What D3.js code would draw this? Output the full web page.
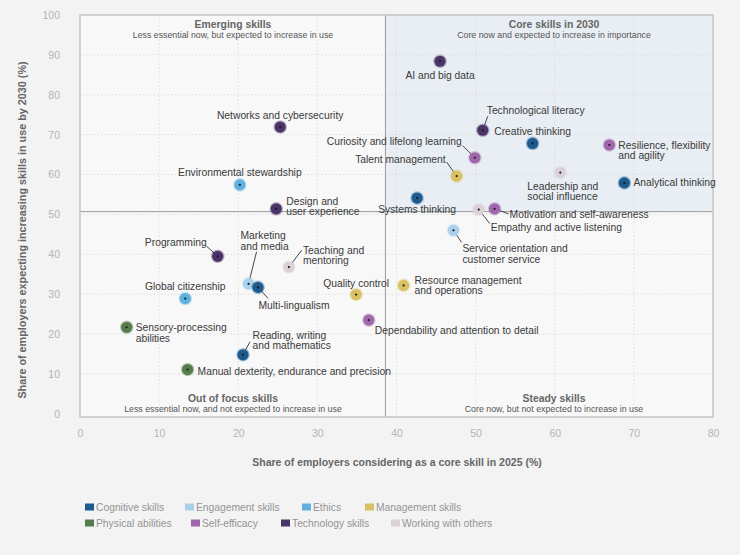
<!DOCTYPE html>
<html><head><meta charset="utf-8">
<script src="https://cdn.jsdelivr.net/npm/d3@7"></script>
<style>
html,body{margin:0;padding:0;background:#f3f3f3;}
svg{display:block;font-family:"Liberation Sans",Arial,Helvetica,sans-serif;}
</style></head>
<body>
<svg id="chart" width="740" height="555"></svg>
<script>
// ---- DATA ----
const skills = [
  "AI and big data","Networks and cybersecurity","Technological literacy","Creative thinking",
  "Resilience, flexibility and agility","Curiosity and lifelong learning","Talent management",
  "Leadership and social influence","Analytical thinking","Systems thinking",
  "Empathy and active listening","Motivation and self-awareness","Environmental stewardship",
  "Design and user experience","Service orientation and customer service","Programming",
  "Marketing and media","Teaching and mentoring","Multi-lingualism","Global citizenship",
  "Quality control","Resource management and operations","Dependability and attention to detail",
  "Sensory-processing abilities","Reading, writing and mathematics","Manual dexterity, endurance and precision"
];
const coreShare2025 = [45.5,25.3,50.9,57.2,66.9,49.9,47.6,60.7,68.8,42.6,50.4,52.4,20.2,24.8,47.2,17.4,21.3,26.4,22.5,13.3,34.9,40.9,36.5,5.9,20.6,13.6];
const increasingShare2030 = [88.4,71.9,71.1,67.8,67.4,64.2,59.6,60.5,57.9,54.1,51.2,51.4,57.4,51.4,46.0,39.5,32.6,36.8,31.7,28.9,29.9,32.2,23.5,21.7,14.8,11.1];
const skillCategory = ["Technology skills","Technology skills","Technology skills","Cognitive skills",
  "Self-efficacy","Self-efficacy","Management skills","Working with others","Cognitive skills","Cognitive skills",
  "Working with others","Self-efficacy","Ethics","Technology skills","Engagement skills","Technology skills",
  "Engagement skills","Working with others","Cognitive skills","Ethics","Management skills","Management skills",
  "Self-efficacy","Physical abilities","Cognitive skills","Physical abilities"];
const categories = ["Cognitive skills","Engagement skills","Ethics","Management skills",
  "Physical abilities","Self-efficacy","Technology skills","Working with others"];
const xTicks = [0,10,20,30,40,50,60,70,80];
const yTicks = [0,10,20,30,40,50,60,70,80,90,100];
const thresholdX = 38.6, thresholdY = 50.7;
const quadrantTitles = ["Emerging skills","Core skills in 2030","Out of focus skills","Steady skills"];
const quadrantSubtitles = ["Less essential now, but expected to increase in use",
  "Core now and expected to increase in importance",
  "Less essential now, and not expected to increase in use",
  "Core now, but not expected to increase in use"];
const xTitle = "Share of employers considering as a core skill in 2025 (%)";
const yTitle = "Share of employers expecting increasing skills in use by 2030 (%)";

// ---- STYLE / LAYOUT ----
const colors = ["#1d5b8f","#a9d2ea","#5eb0de","#d8c063","#567c4d","#a167ad","#4b3467","#ddd1d9"];
const color = d3.scaleOrdinal().domain(categories).range(colors);
// label layout: [dx, dy(baseline of first line), anchor, lines, leader end offset or null]
const labelLayout = {
  "AI and big data":[0,18,"middle",["AI and big data"],null],
  "Networks and cybersecurity":[0,-8.5,"middle",["Networks and cybersecurity"],null],
  "Technological literacy":[4,-16.5,"start",["Technological literacy"],[5,-14]],
  "Creative thinking":[0,-8,"middle",["Creative thinking"],null],
  "Resilience, flexibility and agility":[9,3.5,"start",["Resilience, flexibility","and agility"],null],
  "Curiosity and lifelong learning":[-13,-13,"end",["Curiosity and lifelong learning"],[-12,-12]],
  "Talent management":[-11,-13.5,"end",["Talent management"],[-10,-14]],
  "Leadership and social influence":[-33,17,"start",["Leadership and","social influence"],null],
  "Analytical thinking":[9,3.5,"start",["Analytical thinking"],null],
  "Systems thinking":[0,15,"middle",["Systems thinking"],null],
  "Empathy and active listening":[12,21,"start",["Empathy and active listening"],[11,14]],
  "Motivation and self-awareness":[15,9,"start",["Motivation and self-awareness"],[14,5]],
  "Environmental stewardship":[0,-8.5,"middle",["Environmental stewardship"],null],
  "Design and user experience":[10,-4,"start",["Design and","user experience"],null],
  "Service orientation and customer service":[9,22,"start",["Service orientation and","customer service"],[8,12]],
  "Programming":[-11,-10.5,"end",["Programming"],[-11,-10]],
  "Marketing and media":[-8,-44.5,"start",["Marketing","and media"],[8,-32]],
  "Teaching and mentoring":[14,-13.5,"start",["Teaching and","mentoring"],[13,-17]],
  "Multi-lingualism":[0.5,22,"start",["Multi-lingualism"],[10,11]],
  "Global citizenship":[0,-9,"middle",["Global citizenship"],null],
  "Quality control":[0,-8,"middle",["Quality control"],null],
  "Resource management and operations":[11,-1.5,"start",["Resource management","and operations"],null],
  "Dependability and attention to detail":[6,14,"start",["Dependability and attention to detail"],null],
  "Sensory-processing abilities":[9,4,"start",["Sensory-processing","abilities"],null],
  "Reading, writing and mathematics":[9.5,-16,"start",["Reading, writing","and mathematics"],[7,-13]],
  "Manual dexterity, endurance and precision":[10,5,"start",["Manual dexterity, endurance and precision"],null]
};

const svg = d3.select("#chart");
const x = d3.scaleLinear().domain([0,80]).range([80,713]);
const y = d3.scaleLinear().domain([-0.8,100]).range([417,15]);

svg.append("rect").attr("width",740).attr("height",555).attr("fill","#f3f3f3");
svg.append("rect").attr("x",x(0)).attr("y",y(100)).attr("width",x(80)-x(0)).attr("height",y(-0.8)-y(100))
  .attr("fill","#f8f8f8");
svg.append("rect").attr("x",x(thresholdX)).attr("y",y(100)).attr("width",x(80)-x(thresholdX))
  .attr("height",y(thresholdY)-y(100)).attr("fill","#e8eef3");

const grid = svg.append("g").attr("stroke","#dedede").attr("stroke-dasharray","1.5,2").attr("stroke-width",1);
xTicks.slice(1,-1).forEach(t=>grid.append("line").attr("x1",x(t)).attr("x2",x(t)).attr("y1",y(100)).attr("y2",y(-0.8)));
yTicks.slice(1,-1).forEach(t=>grid.append("line").attr("x1",x(0)).attr("x2",x(80)).attr("y1",y(t)).attr("y2",y(t)));

svg.append("line").attr("x1",x(thresholdX)).attr("x2",x(thresholdX)).attr("y1",y(100)).attr("y2",y(-0.8))
  .attr("stroke","#9a9a9a").attr("stroke-width",1);
svg.append("line").attr("x1",x(0)).attr("x2",x(80)).attr("y1",y(thresholdY)).attr("y2",y(thresholdY))
  .attr("stroke","#9a9a9a").attr("stroke-width",1);

svg.append("rect").attr("x",x(0)).attr("y",y(100)).attr("width",x(80)-x(0)).attr("height",y(-0.8)-y(100))
  .attr("fill","none").attr("stroke","#c4c4c4").attr("stroke-width",1.5);

const xAxis = d3.axisBottom(x).tickValues(xTicks).tickSize(0).tickPadding(0);
const gx = svg.append("g").attr("transform","translate(0,430)").call(xAxis);
gx.select(".domain").remove();
gx.selectAll("text").attr("fill","#b3b3b3").attr("font-size","10.5px").attr("font-family","Liberation Sans, Arial, sans-serif");
const yAxis = d3.axisLeft(y).tickValues(yTicks).tickSize(0).tickPadding(0);
const gy = svg.append("g").attr("transform","translate(60,0)").call(yAxis);
gy.select(".domain").remove();
gy.selectAll("text").attr("fill","#b3b3b3").attr("font-size","10.5px").attr("font-family","Liberation Sans, Arial, sans-serif");

svg.append("text").attr("x",397).attr("y",466).attr("text-anchor","middle")
  .attr("font-size","10.5px").attr("font-weight","bold").attr("fill","#666").text(xTitle);
svg.append("text").attr("transform","translate(26,230) rotate(-90)").attr("text-anchor","middle")
  .attr("font-size","10.8px").attr("font-weight","bold").attr("fill","#666").text(yTitle);

const qx = [233, 554, 233, 554], qy = [27.5, 27.5, 401.5, 401.5];
quadrantTitles.forEach((t,i)=>{
  svg.append("text").attr("x",qx[i]).attr("y",qy[i]).attr("text-anchor","middle")
    .attr("font-size","10.4px").attr("font-weight","bold").attr("fill","#666").text(t);
  svg.append("text").attr("x",qx[i]).attr("y",qy[i]+10.5).attr("text-anchor","middle")
    .attr("font-size","8.8px").attr("fill","#555").text(quadrantSubtitles[i]);
});

const data = skills.map((s,i)=>({name:s,x:coreShare2025[i],y:increasingShare2030[i],cat:skillCategory[i]}));
const g = svg.append("g");
data.forEach(d=>{
  const px = x(d.x), py = y(d.y), L = labelLayout[d.name];
  if (L[4]) {
    g.append("line").attr("x1",px).attr("y1",py).attr("x2",px+L[4][0]).attr("y2",py+L[4][1])
      .attr("stroke","#333").attr("stroke-width",0.9);
  }
});
data.forEach(d=>{
  const px = x(d.x), py = y(d.y);
  g.append("circle").attr("cx",px).attr("cy",py).attr("r",6.8).attr("fill",color(d.cat)).attr("opacity",0.35);
  g.append("circle").attr("cx",px).attr("cy",py).attr("r",5.6).attr("fill",color(d.cat));
  g.append("circle").attr("cx",px).attr("cy",py).attr("r",1.1).attr("fill","#1a1a1a");
});
data.forEach(d=>{
  const px = x(d.x), py = y(d.y), L = labelLayout[d.name];
  const t = g.append("text").attr("x",px+L[0]).attr("y",py+L[1]).attr("text-anchor",L[2])
    .attr("font-size","10.3px").attr("fill","#3a3a3a");
  L[3].forEach((ln,j)=>t.append("tspan").attr("x",px+L[0]).attr("dy",j?10.5:0).text(ln));
});

const legX = [85,185,302,365,85,191,281,391], legY = [507,507,507,507,523,523,523,523];
categories.forEach((c,i)=>{
  svg.append("rect").attr("x",legX[i]).attr("y",legY[i]-3.5).attr("width",9).attr("height",7).attr("fill",color(c));
  svg.append("text").attr("x",legX[i]+11).attr("y",legY[i]+3.6).attr("font-size","10.3px").attr("fill","#939393").text(c);
});
</script>
</body></html>
